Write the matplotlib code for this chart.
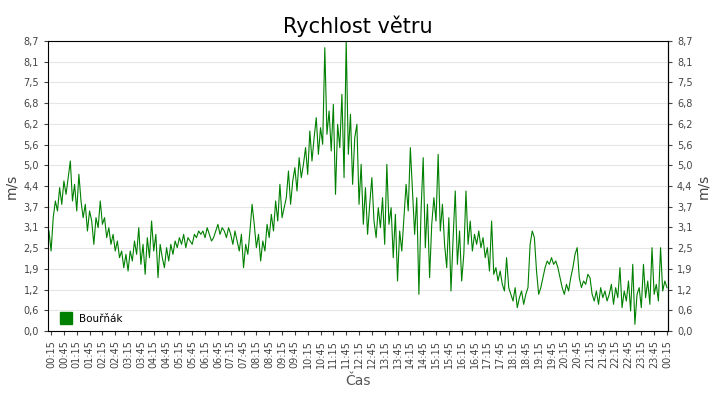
import matplotlib
matplotlib.use("Agg")
import matplotlib.pyplot as plt
import numpy as np

hours_vals = [
 [3.0,2.4,3.4,3.9,3.6,4.3,3.8,4.5,4.1,4.6,5.1,3.9],
 [4.4,3.6,4.7,3.9,3.4,3.8,3.0,3.6,3.3,2.6,3.4,3.1],
 [3.9,3.2,3.4,2.8,3.1,2.6,2.9,2.4,2.7,2.2,2.4,1.9],
 [2.3,1.8,2.4,2.1,2.7,2.3,3.1,2.0,2.6,1.7,2.8,2.2],
 [3.3,2.4,2.9,1.6,2.6,2.2,1.9,2.5,2.1,2.6,2.3,2.7],
 [2.5,2.8,2.6,2.9,2.5,2.8,2.7,2.6,2.9,2.8,3.0,2.9],
 [3.0,2.8,3.1,2.9,2.7,2.8,3.0,3.2,2.9,3.1,3.0,2.8],
 [3.1,2.9,2.6,3.0,2.7,2.4,2.9,1.9,2.6,2.3,3.0,3.8],
 [3.2,2.5,2.9,2.1,2.7,2.4,3.2,2.8,3.5,3.0,3.9,3.3],
 [4.4,3.4,3.7,4.0,4.8,3.8,4.5,4.9,4.2,5.2,4.6,5.0],
 [5.5,4.7,6.0,5.1,5.8,6.4,5.3,6.1,5.6,8.5,5.9,6.6],
 [5.4,6.8,4.1,6.2,5.5,7.1,4.6,8.7,5.3,6.5,4.4,5.8],
 [6.2,3.8,5.0,3.2,4.3,2.9,3.8,4.6,3.3,2.8,3.7,3.1],
 [4.0,2.6,5.0,3.2,3.7,2.2,3.5,1.5,3.0,2.4,3.4,4.4],
 [3.6,5.5,4.2,2.9,4.0,1.1,3.6,5.2,2.5,3.8,1.6,3.2],
 [4.0,3.3,5.3,3.0,3.8,2.6,1.9,3.4,1.2,2.8,4.2,2.0],
 [3.0,1.5,2.3,4.2,2.6,3.3,2.4,2.9,2.6,3.0,2.5,2.8],
 [2.2,2.5,1.8,3.3,1.7,1.9,1.5,1.8,1.4,1.2,2.2,1.3],
 [1.1,0.9,1.3,0.7,1.0,1.2,0.8,1.1,1.3,2.6,3.0,2.8],
 [1.8,1.1,1.3,1.6,1.9,2.1,2.0,2.2,2.0,2.1,1.9,1.6],
 [1.3,1.1,1.4,1.2,1.6,1.9,2.3,2.5,1.6,1.3,1.5,1.4],
 [1.7,1.6,1.1,0.9,1.2,0.8,1.3,1.0,1.2,0.9,1.1,1.4],
 [0.8,1.3,1.0,1.9,0.7,1.2,0.9,1.5,0.6,2.0,0.2,1.1],
 [1.3,0.7,2.0,1.0,1.5,0.8,2.5,1.1,1.4,0.9,2.5,1.2],
 [1.5,1.3],
]
speed = [v for row in hours_vals for v in row]
times = [10/60 + i*5/60 for i in range(len(speed))]

ytick_vals = [i*8.7/14 for i in range(15)]
ytick_labels = ["0,0","0,6","1,2","1,9","2,5","3,1","3,7","4,4","5,0","5,6","6,2","6,8","7,5","8,1","8,7"]
xtick_pos = [0.25 + 0.5*i for i in range(49)]
xtick_labels = ["%02d:%02d" % ((int(p) % 24), int(round((p % 1)*60))) for p in xtick_pos]

fig = plt.figure(figsize=(7.2, 4), dpi=100)
ax = fig.add_axes([48/720, 1-331/400, 620/720, 290/400])
ax.plot(times, speed, color="#008000", lw=0.8, label="Bouřňák")
ax.set_xlim(0.13, 24.29)
ax.set_ylim(0, 8.7)
ax.set_yticks(ytick_vals)
ax.set_yticklabels(ytick_labels)
ax.set_xticks(xtick_pos)
ax.set_xticklabels(xtick_labels, rotation=90)
ax.tick_params(labelsize=7, colors="#444444", length=3)
ax.tick_params(axis="y", right=True, labelright=True)
ax.grid(axis="y", color="#e6e6e6", lw=0.8)
ax.set_axisbelow(True)
ax.set_ylabel("m/s", color="#444444", fontsize=10)
ax2 = ax.secondary_yaxis("right")
ax2.set_yticks([])
ax2.set_ylabel("m/s", color="#444444", fontsize=10, labelpad=20)
ax.set_xlabel("Čas", color="#555555", fontsize=10)
ax.set_title("Rychlost větru", fontsize=15, pad=6)
h = [plt.Line2D([], [], marker="s", color="#008000", ls="none", markersize=8)]
ax.legend(h, ["Bouřňák"], loc="lower left", frameon=False, fontsize=7.5, handletextpad=0.3, borderaxespad=0.3)
fig.savefig("out.png", dpi=100)
